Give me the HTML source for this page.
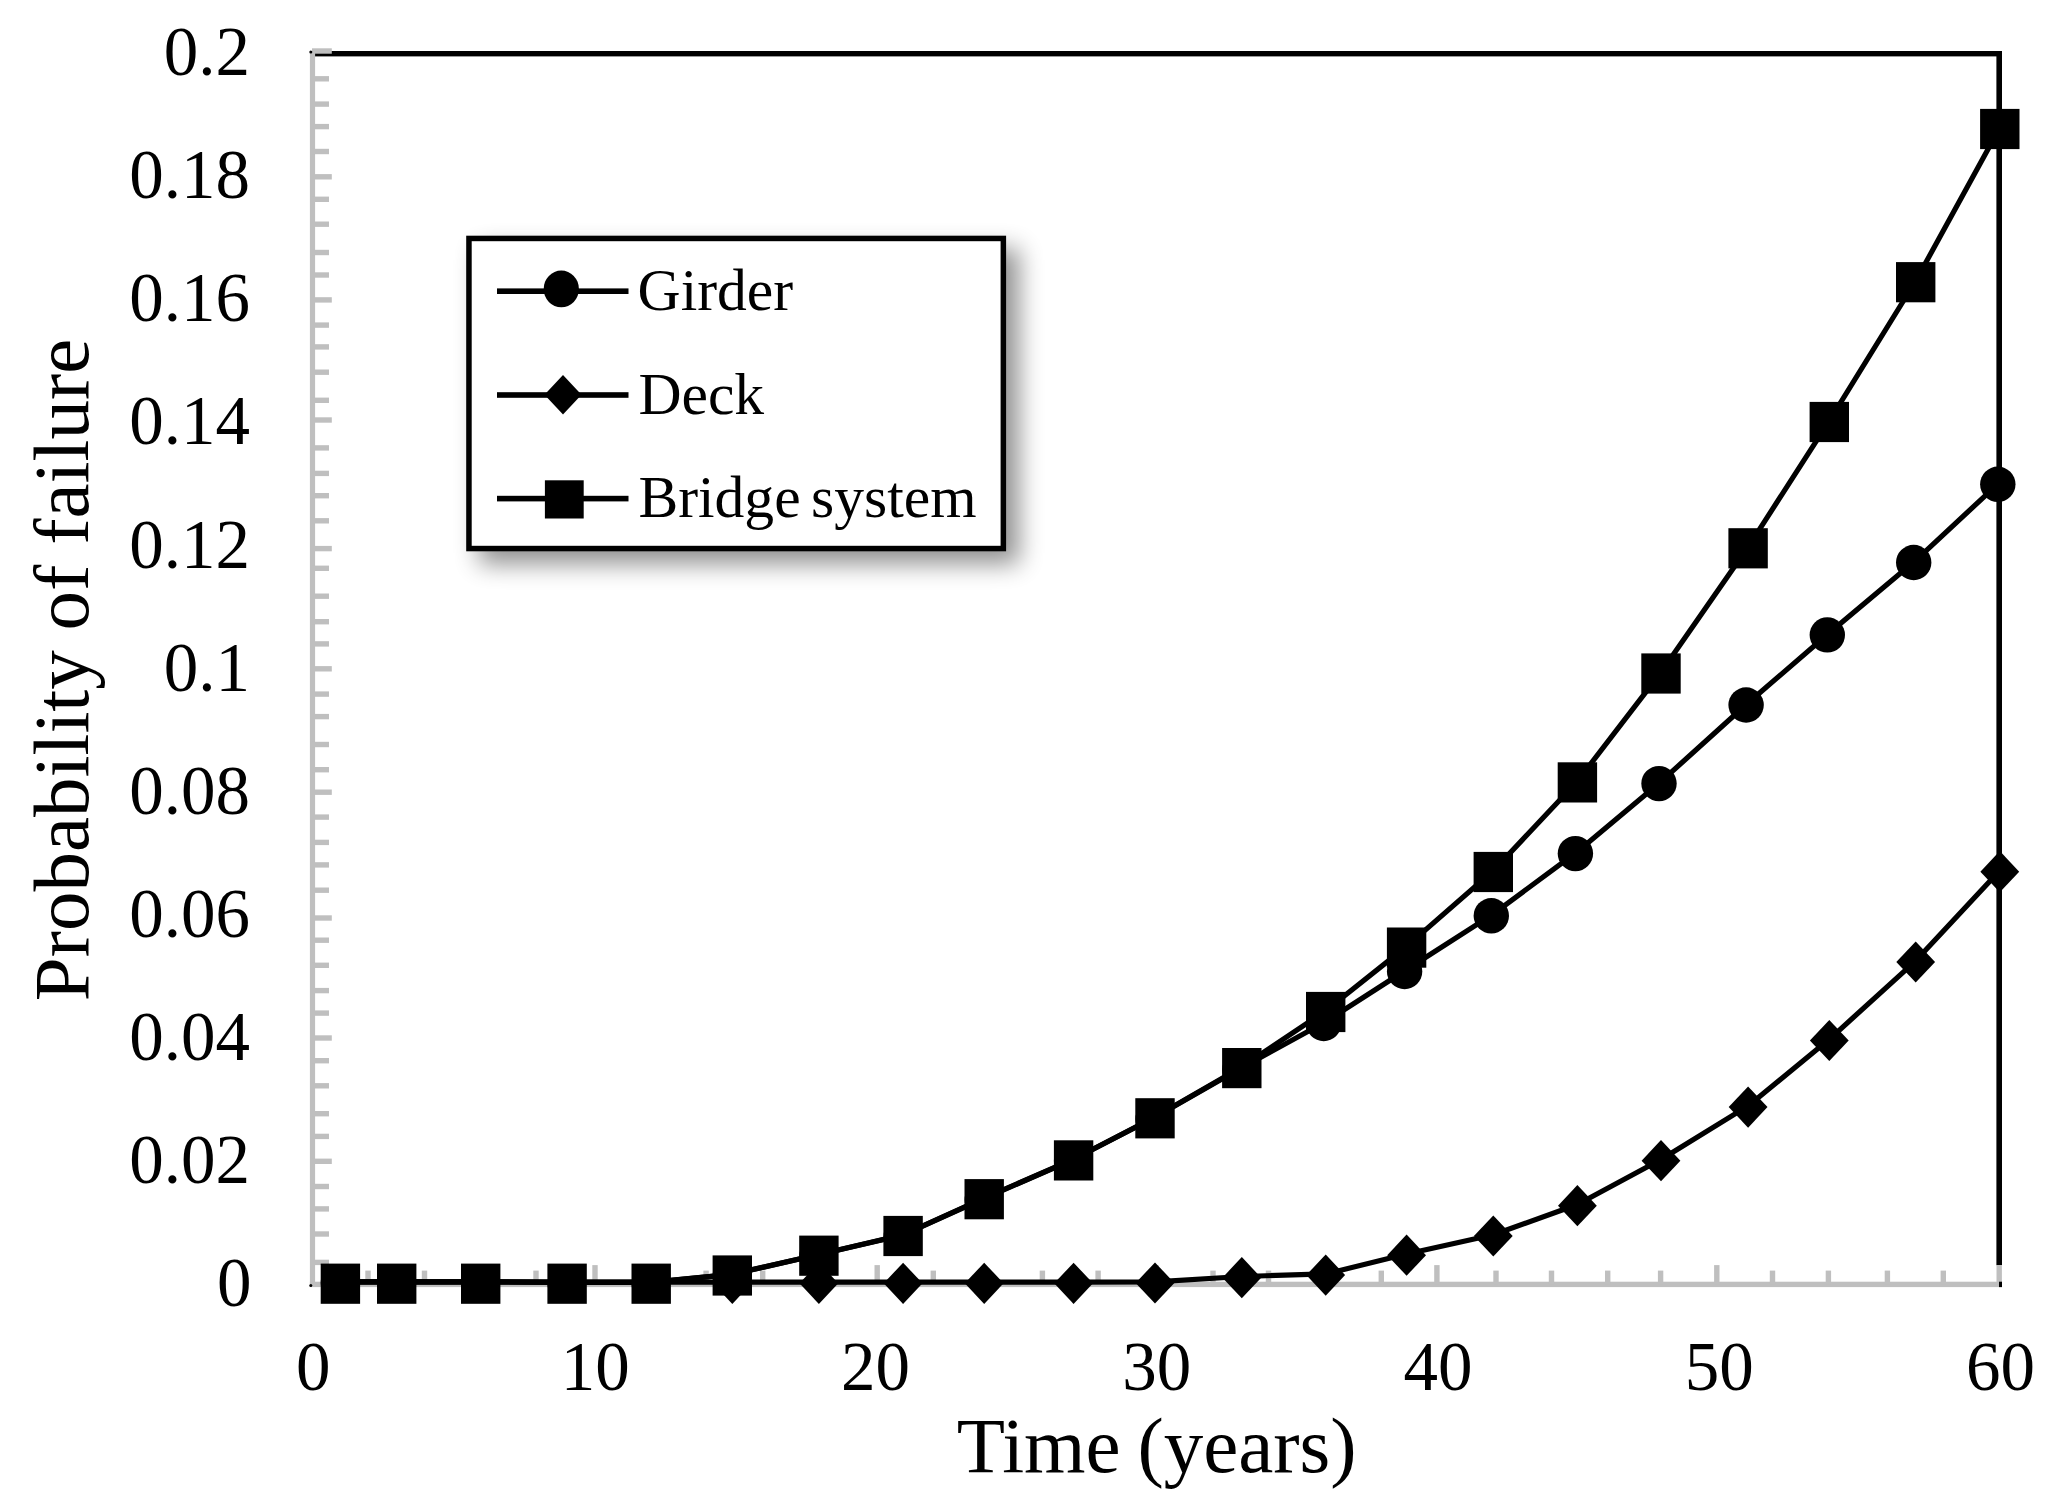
<!DOCTYPE html>
<html lang="en"><head><meta charset="utf-8"><title>Probability of failure vs time</title>
<style>
html,body{margin:0;padding:0;background:#fff;}
body{width:2059px;height:1507px;overflow:hidden;position:relative;}
svg{position:absolute;left:0;top:0;display:block;filter:blur(0.6px);}
text{font-family:"Liberation Serif",serif;fill:#000;}
.tk{font-size:69px;}
.lg{font-size:59.6px;}
.tt{font-size:79px;}
</style></head><body>
<svg width="2059" height="1507" viewBox="0 0 2059 1507">
<defs><filter id="sh" x="-20%" y="-20%" width="150%" height="160%"><feGaussianBlur stdDeviation="12.5"/></filter></defs>
<rect x="0" y="0" width="2059" height="1507" fill="#fff"/>
<g id="frame" fill="#000">
<rect x="315" y="51" width="1687" height="5.4"/>
<rect x="1996.4" y="51" width="5.6" height="1214.2"/>
</g>
<g id="axes" fill="#bfbfbf">
<rect x="309.9" y="51" width="5.2" height="1236"/>
<rect x="309.9" y="1281.7" width="1692.1" height="5.4"/>
<rect x="312" y="48.3" width="19.8" height="5.4"/>
<rect x="312" y="76.1" width="17.0" height="5.4"/>
<rect x="312" y="101.4" width="17.0" height="5.4"/>
<rect x="312" y="123.9" width="17.0" height="5.4"/>
<rect x="312" y="148.8" width="17.0" height="5.4"/>
<rect x="312" y="174.1" width="19.8" height="5.4"/>
<rect x="312" y="196.6" width="17.0" height="5.4"/>
<rect x="312" y="221.5" width="17.0" height="5.4"/>
<rect x="312" y="249.8" width="17.0" height="5.4"/>
<rect x="312" y="272.3" width="17.0" height="5.4"/>
<rect x="312" y="297.2" width="19.8" height="5.4"/>
<rect x="312" y="322.4" width="17.0" height="5.4"/>
<rect x="312" y="344.2" width="17.0" height="5.4"/>
<rect x="312" y="369.5" width="17.0" height="5.4"/>
<rect x="312" y="397.6" width="17.0" height="5.4"/>
<rect x="312" y="417.3" width="19.8" height="5.4"/>
<rect x="312" y="445.2" width="17.0" height="5.4"/>
<rect x="312" y="470.7" width="17.0" height="5.4"/>
<rect x="312" y="493.0" width="17.0" height="5.4"/>
<rect x="312" y="518.1" width="17.0" height="5.4"/>
<rect x="312" y="545.9" width="19.8" height="5.4"/>
<rect x="312" y="565.6" width="17.0" height="5.4"/>
<rect x="312" y="593.5" width="17.0" height="5.4"/>
<rect x="312" y="619.0" width="17.0" height="5.4"/>
<rect x="312" y="641.2" width="17.0" height="5.4"/>
<rect x="312" y="666.1" width="19.8" height="5.4"/>
<rect x="312" y="691.4" width="17.0" height="5.4"/>
<rect x="312" y="713.9" width="17.0" height="5.4"/>
<rect x="312" y="741.8" width="17.0" height="5.4"/>
<rect x="312" y="767.0" width="17.0" height="5.4"/>
<rect x="312" y="789.5" width="19.8" height="5.4"/>
<rect x="312" y="814.4" width="17.0" height="5.4"/>
<rect x="312" y="839.7" width="17.0" height="5.4"/>
<rect x="312" y="862.2" width="17.0" height="5.4"/>
<rect x="312" y="887.5" width="17.0" height="5.4"/>
<rect x="312" y="915.3" width="19.8" height="5.4"/>
<rect x="312" y="937.5" width="17.0" height="5.4"/>
<rect x="312" y="962.6" width="17.0" height="5.4"/>
<rect x="312" y="987.9" width="17.0" height="5.4"/>
<rect x="312" y="1010.4" width="17.0" height="5.4"/>
<rect x="312" y="1035.3" width="19.8" height="5.4"/>
<rect x="312" y="1058.0" width="17.0" height="5.4"/>
<rect x="312" y="1083.1" width="17.0" height="5.4"/>
<rect x="312" y="1111.0" width="17.0" height="5.4"/>
<rect x="312" y="1133.7" width="17.0" height="5.4"/>
<rect x="312" y="1158.6" width="19.8" height="5.4"/>
<rect x="312" y="1183.8" width="17.0" height="5.4"/>
<rect x="312" y="1206.2" width="17.0" height="5.4"/>
<rect x="312" y="1231.3" width="17.0" height="5.4"/>
<rect x="312" y="1259.7" width="17.0" height="5.4"/>
<rect x="365.3" y="1270.6" width="5.4" height="13.8"/>
<rect x="421.8" y="1270.6" width="5.4" height="13.8"/>
<rect x="478.4" y="1270.6" width="5.4" height="13.8"/>
<rect x="533.3" y="1270.6" width="5.4" height="13.8"/>
<rect x="592.3" y="1265.1" width="5.4" height="19.3"/>
<rect x="647.1" y="1270.6" width="5.4" height="13.8"/>
<rect x="703.4" y="1270.6" width="5.4" height="13.8"/>
<rect x="760.0" y="1270.6" width="5.4" height="13.8"/>
<rect x="815.9" y="1270.6" width="5.4" height="13.8"/>
<rect x="874.5" y="1265.1" width="5.4" height="19.3"/>
<rect x="930.6" y="1270.6" width="5.4" height="13.8"/>
<rect x="984.6" y="1270.6" width="5.4" height="13.8"/>
<rect x="1039.7" y="1270.6" width="5.4" height="13.8"/>
<rect x="1095.4" y="1270.6" width="5.4" height="13.8"/>
<rect x="1153.3" y="1265.1" width="5.4" height="19.3"/>
<rect x="1210.3" y="1270.6" width="5.4" height="13.8"/>
<rect x="1265.8" y="1270.6" width="5.4" height="13.8"/>
<rect x="1322.0" y="1270.6" width="5.4" height="13.8"/>
<rect x="1378.6" y="1270.6" width="5.4" height="13.8"/>
<rect x="1434.2" y="1265.1" width="5.4" height="19.3"/>
<rect x="1493.3" y="1270.6" width="5.4" height="13.8"/>
<rect x="1548.8" y="1270.6" width="5.4" height="13.8"/>
<rect x="1605.0" y="1270.6" width="5.4" height="13.8"/>
<rect x="1657.9" y="1270.6" width="5.4" height="13.8"/>
<rect x="1714.1" y="1265.1" width="5.4" height="19.3"/>
<rect x="1769.8" y="1270.6" width="5.4" height="13.8"/>
<rect x="1825.7" y="1270.6" width="5.4" height="13.8"/>
<rect x="1884.7" y="1270.6" width="5.4" height="13.8"/>
<rect x="1940.6" y="1270.6" width="5.4" height="13.8"/>
<rect x="1996.5" y="1265.1" width="5.4" height="19.3"/>
</g>
<g fill="#000"><circle cx="310.8" cy="52" r="1.5"/><circle cx="310.8" cy="1285.6" r="1.5"/><rect x="1999" y="1281.7" width="3" height="5.4"/></g>
<g id="ylabels" class="tk" text-anchor="end">
<text x="250.0" y="75.2">0.2</text>
<text x="250.0" y="198.3">0.18</text>
<text x="250.0" y="321.4">0.16</text>
<text x="250.0" y="444.4">0.14</text>
<text x="250.0" y="567.5">0.12</text>
<text x="250.0" y="690.6">0.1</text>
<text x="250.0" y="813.7">0.08</text>
<text x="250.0" y="936.8">0.06</text>
<text x="250.0" y="1059.8">0.04</text>
<text x="250.0" y="1182.9">0.02</text>
<text x="251.6" y="1306.0">0</text>
</g>
<g id="xlabels" class="tk" text-anchor="middle">
<text x="313.2" y="1390.2">0</text>
<text x="595.2" y="1390.2">10</text>
<text x="875.6" y="1390.2">20</text>
<text x="1156.8" y="1390.2">30</text>
<text x="1438.0" y="1390.2">40</text>
<text x="1719.2" y="1390.2">50</text>
<text x="2000.4" y="1390.2">60</text>
</g>
<text class="tt" text-anchor="middle" x="1156.7" y="1471.9" style="word-spacing:-3px">Time (years)</text>
<text class="tt" text-anchor="middle" transform="translate(88 670) rotate(-90)">Probability of failure</text>
<g id="girder">
<polyline points="339.4,1281.8 395.7,1281.8 479.7,1281.8 566.1,1282.4 650.2,1282.4 731.3,1274.3 817.9,1254.8 902.1,1235.3 983.2,1198.8 1072.6,1159.8 1154.0,1117.8 1240.8,1068.3 1324.7,1022.3 1405.6,970.3 1492.3,914.6 1576.4,852.4 1660.0,782.4 1747.1,703.8 1828.3,633.7 1914.7,561.3 1998.8,483.1" fill="none" stroke="#000" stroke-width="5.2" stroke-linejoin="round" stroke-linecap="butt"/>
<circle cx="338.4" cy="1283.0" r="17.7"/>
<circle cx="394.7" cy="1283.0" r="17.7"/>
<circle cx="478.7" cy="1283.0" r="17.7"/>
<circle cx="565.1" cy="1283.6" r="17.7"/>
<circle cx="649.2" cy="1283.6" r="17.7"/>
<circle cx="730.3" cy="1275.5" r="17.7"/>
<circle cx="816.9" cy="1256.0" r="17.7"/>
<circle cx="901.1" cy="1236.5" r="17.7"/>
<circle cx="982.2" cy="1200.0" r="17.7"/>
<circle cx="1071.6" cy="1161.0" r="17.7"/>
<circle cx="1153.0" cy="1119.0" r="17.7"/>
<circle cx="1239.8" cy="1069.5" r="17.7"/>
<circle cx="1323.7" cy="1023.5" r="17.7"/>
<circle cx="1404.6" cy="971.5" r="17.7"/>
<circle cx="1491.3" cy="915.8" r="17.7"/>
<circle cx="1575.4" cy="853.6" r="17.7"/>
<circle cx="1659.0" cy="783.6" r="17.7"/>
<circle cx="1746.1" cy="705.0" r="17.7"/>
<circle cx="1827.3" cy="634.9" r="17.7"/>
<circle cx="1913.7" cy="562.5" r="17.7"/>
<circle cx="1997.8" cy="484.3" r="17.7"/>
</g>
<g id="deck">
<polyline points="340.4,1281.8 396.7,1281.8 480.7,1281.8 567.1,1282.1 651.2,1282.1 732.3,1282.1 818.9,1282.1 903.1,1282.1 984.2,1282.1 1073.6,1282.1 1155.0,1281.8 1241.8,1276.5 1325.7,1273.9 1406.6,1254.0 1493.3,1234.8 1577.4,1204.5 1661.0,1159.5 1748.1,1105.9 1829.3,1039.3 1915.7,960.8 1999.8,870.5" fill="none" stroke="#000" stroke-width="5.2" stroke-linejoin="round" stroke-linecap="butt"/>
<path d="M732.3 1262.7l19.4 20.6l-19.4 20.6l-19.4 -20.6z"/>
<path d="M818.9 1262.7l19.4 20.6l-19.4 20.6l-19.4 -20.6z"/>
<path d="M903.1 1262.7l19.4 20.6l-19.4 20.6l-19.4 -20.6z"/>
<path d="M984.2 1262.7l19.4 20.6l-19.4 20.6l-19.4 -20.6z"/>
<path d="M1073.6 1262.7l19.4 20.6l-19.4 20.6l-19.4 -20.6z"/>
<path d="M1155.0 1262.4l19.4 20.6l-19.4 20.6l-19.4 -20.6z"/>
<path d="M1241.8 1257.1l19.4 20.6l-19.4 20.6l-19.4 -20.6z"/>
<path d="M1325.7 1254.5l19.4 20.6l-19.4 20.6l-19.4 -20.6z"/>
<path d="M1406.6 1234.6l19.4 20.6l-19.4 20.6l-19.4 -20.6z"/>
<path d="M1493.3 1215.4l19.4 20.6l-19.4 20.6l-19.4 -20.6z"/>
<path d="M1577.4 1185.1l19.4 20.6l-19.4 20.6l-19.4 -20.6z"/>
<path d="M1661.0 1140.1l19.4 20.6l-19.4 20.6l-19.4 -20.6z"/>
<path d="M1748.1 1086.5l19.4 20.6l-19.4 20.6l-19.4 -20.6z"/>
<path d="M1829.3 1019.9l19.4 20.6l-19.4 20.6l-19.4 -20.6z"/>
<path d="M1915.7 941.4l19.4 20.6l-19.4 20.6l-19.4 -20.6z"/>
<path d="M1999.8 851.1l19.4 20.6l-19.4 20.6l-19.4 -20.6z"/>
</g>
<g id="bridge">
<polyline points="340.4,1281.8 396.7,1281.8 480.7,1281.8 567.1,1282.4 651.2,1282.4 732.3,1274.3 818.9,1254.5 903.1,1234.8 984.2,1198.0 1073.6,1159.2 1155.0,1117.1 1241.8,1066.9 1325.7,1010.8 1406.6,946.4 1493.3,870.8 1577.4,781.2 1661.0,672.3 1748.1,547.1 1829.3,420.8 1915.7,281.0 1999.8,127.8" fill="none" stroke="#000" stroke-width="5.2" stroke-linejoin="round" stroke-linecap="butt"/>
<rect x="320.7" y="1263.6" width="39.4" height="40.2"/>
<rect x="377.0" y="1263.6" width="39.4" height="40.2"/>
<rect x="461.0" y="1263.6" width="39.4" height="40.2"/>
<rect x="547.4" y="1263.6" width="39.4" height="40.2"/>
<rect x="631.5" y="1263.6" width="39.4" height="40.2"/>
<rect x="712.6" y="1255.4" width="39.4" height="40.2"/>
<rect x="799.2" y="1235.6" width="39.4" height="40.2"/>
<rect x="883.4" y="1215.9" width="39.4" height="40.2"/>
<rect x="964.5" y="1179.1" width="39.4" height="40.2"/>
<rect x="1053.9" y="1140.3" width="39.4" height="40.2"/>
<rect x="1135.3" y="1098.2" width="39.4" height="40.2"/>
<rect x="1222.1" y="1048.0" width="39.4" height="40.2"/>
<rect x="1306.0" y="991.9" width="39.4" height="40.2"/>
<rect x="1386.9" y="927.5" width="39.4" height="40.2"/>
<rect x="1473.6" y="851.9" width="39.4" height="40.2"/>
<rect x="1557.7" y="762.3" width="39.4" height="40.2"/>
<rect x="1641.3" y="653.4" width="39.4" height="40.2"/>
<rect x="1728.4" y="528.2" width="39.4" height="40.2"/>
<rect x="1809.6" y="401.9" width="39.4" height="40.2"/>
<rect x="1896.0" y="262.1" width="39.4" height="40.2"/>
<rect x="1980.1" y="108.9" width="39.4" height="40.2"/>
</g>
<g id="legend">
<rect x="479" y="248.5" width="540" height="315.5" fill="#000" opacity="0.43" filter="url(#sh)"/>
<rect x="468.95" y="238.45" width="534.4" height="310.1" fill="#fff" stroke="#000" stroke-width="5.5"/>
<rect x="497" y="288.4" width="131.5" height="5.6"/>
<rect x="497" y="392.2" width="131.5" height="5.6"/>
<rect x="497" y="495.8" width="131.5" height="5.6"/>
<ellipse cx="561.3" cy="288.9" rx="17.6" ry="18.4"/>
<path d="M563 375l18.5 19.8l-18.5 19.8l-18.5 -19.8z"/>
<rect x="544.9" y="480.3" width="38.8" height="38.2"/>
<text class="lg" x="637.6" y="310">Girder</text>
<text class="lg" x="638.4" y="413.6">Deck</text>
<text class="lg" x="638.4" y="517" style="word-spacing:-4.5px">Bridge system</text>
</g>
</svg>
</body></html>
